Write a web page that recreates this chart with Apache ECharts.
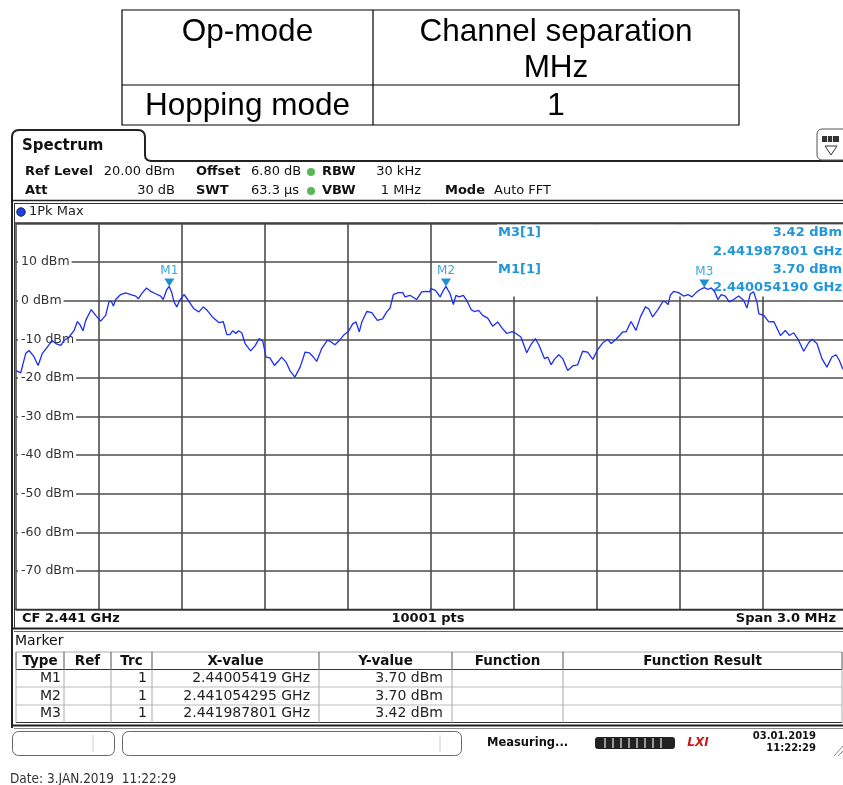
<!DOCTYPE html>
<html><head><meta charset="utf-8">
<script src="https://cdn.jsdelivr.net/npm/echarts@6/dist/echarts.min.js"></script>
<style>html,body{margin:0;padding:0;background:#fff;}#c{width:843px;height:785px;}</style>
</head><body><div id="c"></div>
<script>
// ---- data (frequency offset from CF in kHz, level in dBm) ----
const freqKHz = [
-1500,-1483,-1465,-1453,-1435,-1420,-1405,-1387,-1369,-1356,
-1338,-1326,-1308,-1290,-1278,-1269,-1258,-1248,-1228,-1212,
-1194,-1176,-1164,-1156,-1148,-1140,-1122,-1104,-1085,-1067,
-1058,-1043,-1028,-1013,-995,-977,-968,-955,-946,-937,
-929,-919,-908,-893,-881,-857,-839,-823,-809,-790,
-766,-751,-738,-727,-717,-705,-696,-684,-672,-652,
-636,-621,-608,-596,-582,-566,-552,-540,-524,-510,
-492,-473,-455,-440,-425,-413,-395,-375,-365,-347,
-331,-314,-299,-283,-271,-259,-250,-232,-214,-194,
-175,-160,-148,-136,-118,-102,-94,-76,-52,-34,
-18,-6,0,16,33,45,54,69,81,90,
102,117,129,145,157,172,187,205,223,241,
257,274,293,307,325,346,361,377,391,410,
422,434,446,462,476,494,512,530,548,566,
585,603,621,639,651,669,693,705,723,741,
757,775,787,801,820,838,847,857,865,877,
895,913,929,943,958,973,988,1001,1013,1025,
1037,1049,1064,1078,1094,1112,1130,1142,1154,1166,
1178,1185,1203,1221,1239,1263,1281,1295,1311,1329,
1347,1365,1377,1395,1413,1431,1449,1464,1476,1488,
1500];
const levelDBm = [
-18.1,-18.7,-13.7,-12.9,-14.5,-16.8,-13.7,-12.0,-10.3,-11.1,
-11.6,-10.3,-9.4,-7.7,-5.4,-6.2,-7.8,-5.1,-2.3,-3.8,
-5.3,-3.8,-0.3,-0.1,-1.4,0.3,1.6,2.0,1.6,1.2,
0.5,2.1,3.3,2.4,1.8,1.2,0.3,2.9,3.7,2.1,
-0.3,-1.6,0.1,1.6,0.5,-2.1,-2.9,-1.6,-2.5,-4.2,
-5.7,-5.4,-8.8,-8.8,-7.8,-8.5,-7.8,-8.3,-11.1,-13.0,
-11.7,-9.8,-10.5,-14.6,-14.8,-16.8,-15.7,-14.6,-15.9,-18.1,
-19.8,-17.2,-13.3,-13.5,-14.6,-15.7,-12.4,-10.3,-10.5,-11.4,
-10.3,-8.8,-8.0,-6.0,-5.5,-8.1,-5.5,-2.8,-3.1,-5.1,
-4.7,-2.9,-1.9,1.6,2.1,2.1,1.0,1.4,0.3,2.3,
2.4,2.3,3.1,2.7,1.0,2.7,3.7,1.8,-1.0,1.4,
1.0,1.4,0.1,-2.3,-2.8,-2.5,-3.8,-4.5,-6.6,-5.5,
-7.1,-8.5,-8.0,-8.5,-9.4,-13.5,-11.4,-9.8,-11.6,-15.0,
-14.6,-16.6,-15.2,-14.0,-15.0,-18.1,-16.9,-16.6,-13.1,-13.3,
-15.2,-12.6,-10.9,-10.0,-11.1,-10.0,-8.1,-8.1,-5.4,-7.7,
-4.2,-1.6,-2.1,-4.2,-2.3,-0.2,-0.3,-1.0,1.4,2.4,
2.1,1.2,1.6,1.0,2.1,2.9,3.4,2.9,3.3,2.4,
0.3,1.6,1.2,-0.3,0.3,1.2,0.1,-1.9,1.8,2.3,
-0.3,-3.4,-3.8,-5.5,-5.4,-9.0,-7.7,-9.0,-8.3,-10.3,
-13.1,-10.9,-10.0,-11.1,-15.0,-17.2,-14.6,-14.0,-15.5,-17.6,
-18.0];
const markerNames = ['M1','M2','M3'];
const markerFreqKHz = [-945.81, 54.295, 987.801];
const markerLevel = [3.70, 3.70, 3.42];
const markerXText = ['2.44005419 GHz','2.441054295 GHz','2.441987801 GHz'];
const markerYText = ['3.70 dBm','3.70 dBm','3.42 dBm'];
const yMin = -80, yMax = 20, yStep = 10;
const xMin = -1500, xMax = 1500, xStep = 300;
const tableHead = ['Op-mode', 'Channel separation', 'MHz'];
const tableRow = ['Hopping mode', '1'];
const markerTableHead = ['Type','Ref','Trc','X-value','Y-value','Function','Function Result'];

// ---- helpers ----
const FF = '"DejaVu Sans", Verdana, sans-serif';
function T(x, y, text, o) {
  o = o || {};
  const font = (o.i ? 'italic ' : '') + (o.b ? 'bold ' : '') + (o.s || 13) + 'px ' + (o.f || FF);
  return { type: 'text', x: x, y: y, z: o.z == null ? 10 : o.z, z2: o.z2 == null ? 5 : o.z2, silent: true,
    style: { text: text, fill: o.c || '#111', font: font,
      align: o.a || 'left', textAlign: o.a || 'left', verticalAlign: 'middle', textVerticalAlign: 'middle' } };
}
function L(x1, y1, x2, y2, c, w, z) {
  return { type: 'line', z: z == null ? 10 : z, silent: true, shape: { x1: x1, y1: y1, x2: x2, y2: y2 },
    style: { stroke: c || '#222', lineWidth: w || 1 } };
}
function R(x, y, w, h, o) {
  o = o || {};
  return { type: 'rect', z: o.z == null ? 10 : o.z, z2: o.z2 || 0, silent: true,
    shape: { x: x, y: y, width: w, height: h, r: o.r || 0 },
    style: { fill: o.fill || 'none', stroke: o.stroke || null, lineWidth: o.lw || 1 } };
}
function C(cx, cy, r, fill, stroke) {
  return { type: 'circle', z: 10, silent: true, shape: { cx: cx, cy: cy, r: r }, style: { fill: fill, stroke: stroke || null, lineWidth: 0.8 } };
}

const g = [];
// top table
g.push(R(122, 10, 617, 115, { stroke: '#000', lw: 1.2 }));
g.push(L(373, 10, 373, 125, '#000', 1.2));
g.push(L(122, 85, 739, 85, '#000', 1.2));
const TF = '"Liberation Sans", Arial, sans-serif';
g.push(T(247.5, 32, tableHead[0], { s: 31.5, f: TF, a: 'center', c: '#000' }));
g.push(T(556, 32, tableHead[1], { s: 31.5, f: TF, a: 'center', c: '#000' }));
g.push(T(556, 68, tableHead[2], { s: 31.5, f: TF, a: 'center', c: '#000' }));
g.push(T(247.5, 106, tableRow[0], { s: 31.5, f: TF, a: 'center', c: '#000' }));
g.push(T(556, 106, tableRow[1], { s: 31.5, f: TF, a: 'center', c: '#000' }));

// spectrum tab + frame
g.push({ type: 'polyline', z: 10, silent: true,
  shape: { points: [[12, 728], [12, 137], [12.5, 134], [14, 131.8], [16, 130.5], [19, 130], [138, 130], [141, 130.5], [143, 131.8], [144.5, 134], [145, 137], [145, 155], [145.5, 158], [147.5, 160.2], [151, 161], [843, 161]] },
  style: { fill: 'none', stroke: '#222', lineWidth: 2 } });
g.push(T(22, 146, 'Spectrum', { b: true, s: 15 }));
// icon box top right
g.push(R(817, 129, 32, 31, { stroke: '#555', lw: 1, r: 5, fill: '#fff' }));
g.push(R(822, 136, 17, 6, { fill: '#333' }));
g.push(L(827.5, 136, 827.5, 142, '#ddd', 1));
g.push(L(832.5, 136, 832.5, 142, '#ddd', 1));
g.push({ type: 'polygon', z: 10, silent: true, shape: { points: [[825, 146], [837, 146], [831, 155]] }, style: { fill: '#fff', stroke: '#333', lineWidth: 1 } });

// header rows
g.push(T(25, 171.5, 'Ref Level', { b: true }));
g.push(T(175, 171.5, '20.00 dBm', { a: 'right' }));
g.push(T(196, 171.5, 'Offset', { b: true }));
g.push(T(251, 171.5, '6.80 dB'));
g.push(C(311, 172, 4, '#58b858'));
g.push(T(322, 171.5, 'RBW', { b: true }));
g.push(T(421, 171.5, '30 kHz', { a: 'right' }));
g.push(T(25, 190.5, 'Att', { b: true }));
g.push(T(175, 190.5, '30 dB', { a: 'right' }));
g.push(T(196, 190.5, 'SWT', { b: true }));
g.push(T(251, 190.5, '63.3 µs'));
g.push(C(311, 191, 4, '#58b858'));
g.push(T(322, 190.5, 'VBW', { b: true }));
g.push(T(421, 190.5, '1 MHz', { a: 'right' }));
g.push(T(445, 190.5, 'Mode', { b: true }));
g.push(T(494, 190.5, 'Auto FFT'));
g.push(L(12, 200.5, 843, 200.5, '#222', 1.5));
g.push(L(14, 203.5, 843, 203.5, '#333', 1));
g.push(C(21, 212, 4.3, '#1f3fe6', '#112'));
g.push(T(29, 212, '1Pk Max', { c: '#222' }));
g.push(L(14.5, 203, 14.5, 628, '#333', 1));

// plot borders
g.push(L(14, 223, 843, 223, '#333', 1.5, 3));
g.push(L(14, 609.5, 843, 609.5, '#333', 1.5, 3));

// marker info box in plot (below trace)
g.push(R(497, 224.5, 350, 72, { fill: '#fff', z: 1, z2: 0 }));
const MC = '#2196d8';
g.push(T(498, 233, markerNames[2] + '[1]', { b: true, c: MC, z: 1 }));
g.push(T(842, 233, markerYText[2], { b: true, c: MC, z: 1, a: 'right' }));
g.push(T(842, 251.5, markerXText[2], { b: true, c: MC, z: 1, a: 'right' }));
g.push(T(498, 270, markerNames[0] + '[1]', { b: true, c: MC, z: 1 }));
g.push(T(842, 270, markerYText[0], { b: true, c: MC, z: 1, a: 'right' }));
g.push(T(842, 288, '2.440054190 GHz', { b: true, c: MC, z: 1, a: 'right' }));

// CF row
g.push(T(22, 619, 'CF 2.441 GHz', { b: true }));
g.push(T(428, 619, '10001 pts', { b: true, a: 'center' }));
g.push(T(836, 619, 'Span 3.0 MHz', { b: true, a: 'right' }));
g.push(L(12, 628.5, 843, 628.5, '#222', 2));
g.push(L(14, 631.5, 843, 631.5, '#666', 1));

// marker table
g.push(T(15, 641, 'Marker', { c: '#111', s: 14 }));
const colX = [16, 64, 111, 152, 319, 452, 563, 842];
const rowY = [652, 669.5, 687, 705, 722.5];
g.push(L(16, rowY[0], 842, rowY[0], '#aaa', 1));
g.push(L(16, rowY[1], 842, rowY[1], '#333', 1.2));
g.push(L(16, rowY[2], 842, rowY[2], '#bbb', 1));
g.push(L(16, rowY[3], 842, rowY[3], '#bbb', 1));
g.push(L(16, rowY[4], 842, rowY[4], '#333', 1.2));
for (let i = 0; i < colX.length; i++) {
  g.push(L(colX[i], rowY[0], colX[i], rowY[1], '#555', 1));
  g.push(L(colX[i], rowY[1], colX[i], rowY[4], '#aaa', 1));
}
for (let i = 0; i < markerTableHead.length; i++) {
  g.push(T((colX[i] + colX[i + 1]) / 2, 661, markerTableHead[i], { b: true, a: 'center', s: 13.5 }));
}
for (let r = 0; r < 3; r++) {
  const y = (rowY[r + 1] + rowY[r + 2]) / 2;
  g.push(T(61, y, markerNames[r], { a: 'right', c: '#222', s: 14 }));
  g.push(T(147, y, '1', { a: 'right', c: '#222', s: 14 }));
  g.push(T(310, y, markerXText[r], { a: 'right', c: '#222', s: 14 }));
  g.push(T(443, y, markerYText[r], { a: 'right', c: '#222', s: 14 }));
}
g.push(L(12, 725.5, 843, 725.5, '#222', 2));
g.push(L(14, 728.5, 843, 728.5, '#888', 1));

// status bar
g.push(R(12.5, 731.5, 102, 24, { stroke: '#666', r: 6, fill: '#fff' }));
g.push(L(93, 735, 93, 752, '#ccc', 1));
g.push(R(122.5, 731.5, 339, 24, { stroke: '#666', r: 6, fill: '#fff' }));
g.push(L(440, 735, 440, 752, '#ccc', 1));
g.push(T(487, 743, 'Measuring...', { b: true, s: 11.5 }));
g.push(R(595, 737, 80, 12, { fill: '#222', r: 3 }));
for (let i = 0; i < 8; i++) g.push(L(605 + i * 8, 738, 605 + i * 8, 748, '#999', 2));
g.push(T(698, 743, 'LXI', { b: true, i: true, s: 12, c: '#d01818', a: 'center' }));
g.push(T(816, 736, '03.01.2019', { b: true, s: 10, a: 'right' }));
g.push(T(816, 748, '11:22:29', { b: true, s: 10, a: 'right' }));
g.push(L(834, 756, 843, 746, '#888', 1));
g.push(L(838, 756, 843, 751, '#888', 1));

// footer date
g.push(T(10, 779, 'Date: 3.JAN.2019  11:22:29', { s: 13.5, c: '#333', f: '"DejaVu Sans Condensed", "DejaVu Sans", sans-serif' }));

const data = freqKHz.map((f, i) => [f, levelDBm[i]]);
const chart = echarts.init(document.getElementById('c'), null, { renderer: 'canvas' });
chart.setOption({
  animation: false,
  backgroundColor: '#fff',
  grid: { left: 16, top: 223.5, width: 830, height: 386, containLabel: false, outerBoundsMode: 'none', show: false },
  xAxis: { type: 'value', min: xMin, max: xMax, interval: xStep,
    axisLine: { show: false }, axisTick: { show: false }, axisLabel: { show: false },
    splitLine: { show: true, lineStyle: { color: '#4d4d4d', width: 1.6 } } },
  yAxis: [
    { type: 'value', min: yMin, max: yMax, interval: yStep, position: 'left', z: 1,
      axisLine: { show: false }, axisTick: { show: false }, splitLine: { show: false },
      axisLabel: { inside: true, margin: 2, showMinLabel: false, showMaxLabel: false,
        formatter: v => v + ' dBm', color: '#333', fontSize: 12.5, fontFamily: 'DejaVu Sans',
        backgroundColor: '#fff', padding: [1, 2, 1, 3] } },
    { type: 'value', min: yMin, max: yMax, interval: yStep, z: 0,
      axisLine: { show: false }, axisTick: { show: false }, axisLabel: { show: false },
      splitLine: { show: true, lineStyle: { color: '#4d4d4d', width: 1.6 } } }
  ],
  series: [{
    type: 'line', data: data, showSymbol: false, z: 2, yAxisIndex: 0,
    lineStyle: { color: '#1c2ef2', width: 1.3 },
    markPoint: {
      symbol: 'triangle', symbolRotate: 180, symbolSize: [10, 8], symbolOffset: [0, '-50%'],
      itemStyle: { color: '#1b8fd2' },
      label: { show: true, position: 'top', distance: 2, color: '#3aa6e0', fontSize: 12, fontFamily: 'DejaVu Sans',
        formatter: p => p.name },
      data: markerNames.map((n, i) => ({ name: n, coord: [markerFreqKHz[i], markerLevel[i]] }))
    }
  }],
  graphic: { elements: g }
});
</script></body></html>
